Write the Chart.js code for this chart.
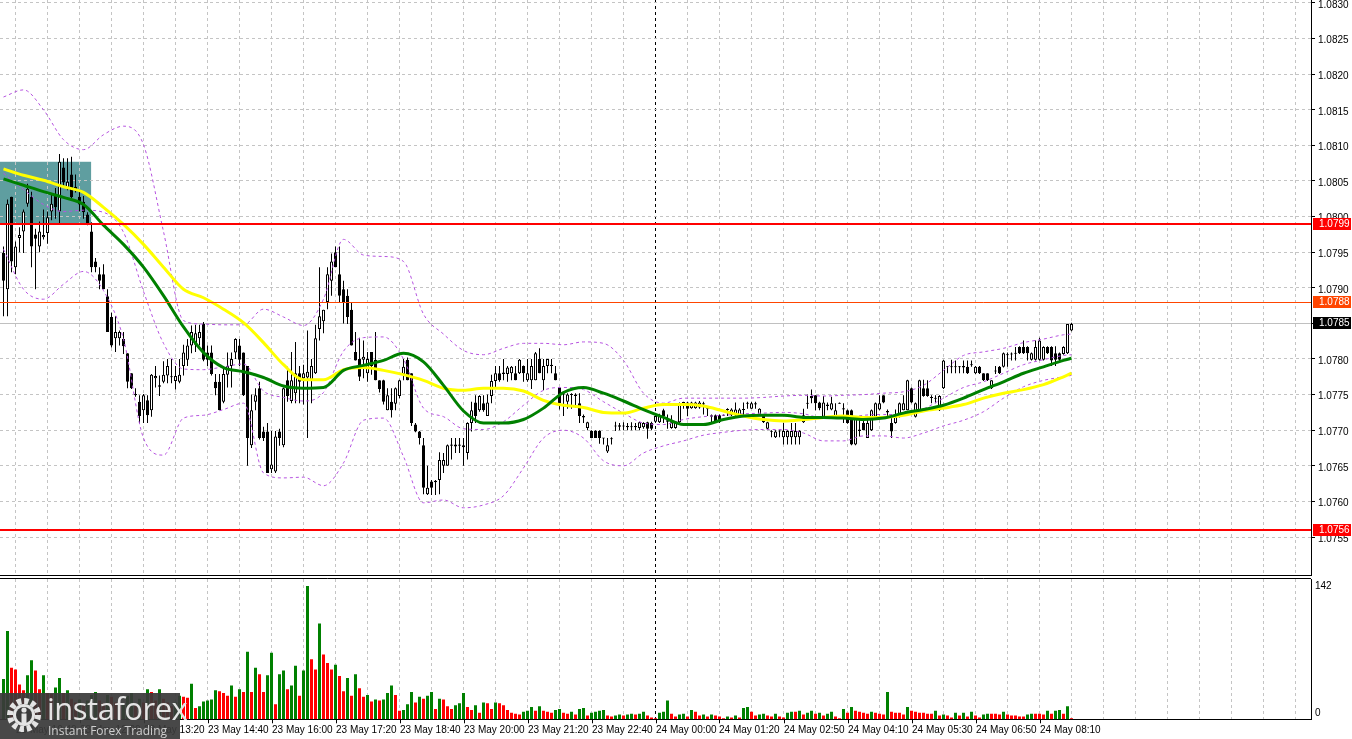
<!DOCTYPE html>
<html>
<head>
<meta charset="utf-8">
<script src="https://cdn.jsdelivr.net/npm/chart.js@4.4.0/dist/chart.umd.min.js"></script>
<style>
  body { margin: 0; background: #fff; width: 1352px; height: 739px; overflow: hidden; position: relative; }
  #price { position: absolute; left: 0; top: 0; }
  #vol { position: absolute; left: 0; top: 577px; }
  #logo { position: absolute; left: 0; top: 693px; width: 180px; height: 46px; background: rgba(58,58,58,0.93); color: #e4e4e4; font-family: 'Open Sans', 'Liberation Sans', sans-serif; }
  #logo svg { position: absolute; left: 6px; top: 4px; }
  #logo .brand { position: absolute; left: 47px; top: -6px; font-size: 31px; letter-spacing: -0.5px; }
  #logo .tag { position: absolute; left: 48px; top: 29px; font-size: 12px; color: #cfcfcf; }
</style>
</head>
<body>
<canvas id="price" width="1352" height="577"></canvas>
<canvas id="vol" width="1352" height="162"></canvas>
<div id="logo">
  <svg width="36" height="36" viewBox="0 0 36 36">
    <circle cx="18" cy="18" r="14" fill="none" stroke="#e4e4e4" stroke-width="6" stroke-dasharray="4.4 2.9"/>
    <circle cx="18" cy="18" r="11" fill="#e4e4e4"/>
    <circle cx="18" cy="18" r="8" fill="#3a3a3a"/>
    <circle cx="18" cy="13" r="2.6" fill="#e4e4e4"/>
    <rect x="15.5" y="16.5" width="5" height="10" fill="#e4e4e4"/>
  </svg>
  <div class="brand">instaforex</div>
  <div class="tag">Instant Forex Trading</div>
</div>
<script>
// M5 candles, 23 May ~10:30 .. 24 May 08:50
const openPx = [
  1.07949,1.07898,1.08028,1.07929,1.07970,1.07979,1.08018,1.08028,1.07975,1.07958,
  1.07971,1.07977,1.08007,1.08032,1.08007,1.08069,1.08039,1.08059,1.08042,1.08028,
  1.08021,1.08003,1.07979,1.07937,1.07919,1.07919,1.07888,1.07859,1.07829,1.07829,
  1.07828,1.07808,1.07780,1.07751,1.07740,1.07728,1.07742,1.07728,1.07773,1.07761,
  1.07768,1.07777,1.07775,1.07769,1.07768,1.07790,1.07799,1.07819,1.07820,1.07829,
  1.07849,1.07809,1.07809,1.07768,1.07768,1.07740,1.07778,1.07790,1.07809,1.07819,
  1.07809,1.07790,1.07679,1.07740,1.07759,1.07698,1.07698,1.07645,1.07642,1.07698,
  1.07679,1.07770,1.07741,1.07752,1.07780,1.07773,1.07774,1.07771,1.07780,1.07842,
  1.07853,1.07880,1.07910,1.07950,1.07919,1.07898,1.07889,1.07869,1.07810,1.07800,
  1.07799,1.07780,1.07810,1.07799,1.07770,1.07770,1.07728,1.07740,1.07737,1.07748,
  1.07779,1.07799,1.07780,1.07708,1.07698,1.07679,1.07610,1.07628,1.07629,1.07630,
  1.07650,1.07650,1.07678,1.07677,1.07680,1.07676,1.07668,1.07710,1.07739,1.07728,
  1.07738,1.07720,1.07748,1.07769,1.07780,1.07779,1.07779,1.07780,1.07780,1.07780,
  1.07790,1.07770,1.07770,1.07770,1.07800,1.07770,1.07790,1.07790,1.07780,1.07760,
  1.07750,1.07740,1.07750,1.07748,1.07738,1.07720,1.07703,1.07699,1.07699,1.07699,
  1.07689,1.07670,1.07688,1.07706,1.07705,1.07706,1.07704,1.07705,1.07704,1.07703,
  1.07704,1.07711,1.07710,1.07712,1.07711,1.07728,1.07714,1.07703,1.07703,1.07711,
  1.07739,1.07739,1.07731,1.07731,1.07732,1.07738,1.07730,1.07721,1.07721,1.07721,
  1.07721,1.07729,1.07721,1.07721,1.07721,1.07729,1.07738,1.07730,1.07738,1.07721,
  1.07721,1.07702,1.07698,1.07690,1.07699,1.07690,1.07690,1.07690,1.07690,1.07690,
  1.07711,1.07738,1.07748,1.07749,1.07739,1.07719,1.07736,1.07729,1.07719,1.07738,
  1.07731,1.07728,1.07728,1.07680,1.07701,1.07710,1.07689,1.07700,1.07719,1.07729,
  1.07749,1.07727,1.07710,1.07710,1.07719,1.07728,1.07728,1.07759,1.07719,1.07728,
  1.07759,1.07759,1.07746,1.07745,1.07728,1.07759,1.07789,1.07789,1.07789,1.07789,
  1.07790,1.07789,1.07792,1.07780,1.07789,1.07780,1.07780,1.07759,1.07783,1.07789,
  1.07789,1.07806,1.07807,1.07808,1.07817,1.07817,1.07817,1.07799,1.07799,1.07799,
  1.07799,1.07817,1.07817,1.07808,1.07808,1.07807,1.07808,1.07840
];
const highPx = [
  1.07958,1.08024,1.08028,1.07965,1.07985,1.08010,1.08046,1.08035,1.07983,1.07993,
  1.08010,1.08007,1.08032,1.08040,1.08088,1.08082,1.08082,1.08084,1.08059,1.08037,
  1.08029,1.08006,1.07992,1.07942,1.07929,1.07933,1.07898,1.07865,1.07860,1.07840,
  1.07838,1.07808,1.07780,1.07759,1.07749,1.07751,1.07749,1.07779,1.07790,1.07777,
  1.07797,1.07800,1.07800,1.07790,1.07800,1.07820,1.07828,1.07847,1.07848,1.07848,
  1.07852,1.07819,1.07819,1.07779,1.07779,1.07788,1.07809,1.07809,1.07829,1.07828,
  1.07809,1.07790,1.07750,1.07759,1.07768,1.07705,1.07710,1.07699,1.07699,1.07702,
  1.07760,1.07789,1.07810,1.07824,1.07790,1.07792,1.07840,1.07800,1.07848,1.07929,
  1.07869,1.07929,1.07948,1.07958,1.07958,1.07910,1.07898,1.07880,1.07838,1.07830,
  1.07826,1.07810,1.07810,1.07838,1.07770,1.07771,1.07759,1.07759,1.07760,1.07771,
  1.07800,1.07802,1.07780,1.07710,1.07699,1.07689,1.07650,1.07630,1.07630,1.07669,
  1.07668,1.07680,1.07689,1.07689,1.07689,1.07689,1.07711,1.07740,1.07749,1.07749,
  1.07749,1.07750,1.07778,1.07790,1.07790,1.07800,1.07790,1.07790,1.07790,1.07800,
  1.07791,1.07800,1.07800,1.07810,1.07815,1.07800,1.07800,1.07800,1.07790,1.07760,
  1.07752,1.07752,1.07752,1.07752,1.07752,1.07722,1.07712,1.07700,1.07700,1.07700,
  1.07689,1.07689,1.07690,1.07712,1.07710,1.07711,1.07710,1.07711,1.07710,1.07712,
  1.07711,1.07712,1.07712,1.07722,1.07723,1.07730,1.07722,1.07721,1.07712,1.07739,
  1.07740,1.07740,1.07740,1.07740,1.07741,1.07740,1.07731,1.07722,1.07722,1.07722,
  1.07722,1.07731,1.07731,1.07739,1.07731,1.07739,1.07740,1.07740,1.07740,1.07731,
  1.07722,1.07712,1.07700,1.07700,1.07700,1.07710,1.07700,1.07710,1.07710,1.07700,
  1.07730,1.07750,1.07757,1.07749,1.07740,1.07748,1.07739,1.07747,1.07738,1.07739,
  1.07738,1.07729,1.07729,1.07720,1.07719,1.07719,1.07719,1.07729,1.07739,1.07749,
  1.07749,1.07729,1.07719,1.07729,1.07739,1.07749,1.07771,1.07760,1.07739,1.07771,
  1.07771,1.07770,1.07749,1.07749,1.07749,1.07799,1.07790,1.07799,1.07798,1.07790,
  1.07798,1.07798,1.07798,1.07790,1.07790,1.07780,1.07780,1.07770,1.07790,1.07790,
  1.07809,1.07809,1.07809,1.07817,1.07818,1.07826,1.07818,1.07809,1.07826,1.07830,
  1.07818,1.07818,1.07818,1.07818,1.07809,1.07818,1.07849,1.07851
];
const lowPx = [
  1.07860,1.07860,1.07922,1.07919,1.07950,1.07949,1.08014,1.07929,1.07898,1.07950,
  1.07968,1.07962,1.07995,1.07997,1.07989,1.08040,1.08037,1.08023,1.08034,1.08007,
  1.07997,1.07988,1.07922,1.07922,1.07898,1.07898,1.07838,1.07816,1.07810,1.07819,
  1.07807,1.07759,1.07758,1.07747,1.07710,1.07710,1.07710,1.07719,1.07760,1.07748,
  1.07766,1.07766,1.07766,1.07757,1.07766,1.07777,1.07790,1.07808,1.07810,1.07819,
  1.07797,1.07790,1.07777,1.07749,1.07728,1.07738,1.07760,1.07760,1.07800,1.07790,
  1.07748,1.07650,1.07675,1.07728,1.07687,1.07685,1.07640,1.07640,1.07640,1.07678,
  1.07676,1.07740,1.07738,1.07738,1.07738,1.07736,1.07689,1.07738,1.07779,1.07826,
  1.07836,1.07870,1.07889,1.07929,1.07879,1.07850,1.07849,1.07819,1.07798,1.07769,
  1.07773,1.07768,1.07778,1.07770,1.07753,1.07736,1.07728,1.07718,1.07728,1.07745,
  1.07770,1.07770,1.07706,1.07697,1.07680,1.07610,1.07609,1.07609,1.07609,1.07610,
  1.07640,1.07650,1.07659,1.07668,1.07668,1.07650,1.07659,1.07698,1.07710,1.07726,
  1.07726,1.07720,1.07738,1.07758,1.07768,1.07770,1.07768,1.07770,1.07770,1.07779,
  1.07768,1.07768,1.07758,1.07770,1.07780,1.07756,1.07780,1.07780,1.07770,1.07729,
  1.07720,1.07730,1.07730,1.07732,1.07710,1.07710,1.07700,1.07689,1.07689,1.07681,
  1.07680,1.07668,1.07680,1.07699,1.07700,1.07700,1.07700,1.07700,1.07700,1.07700,
  1.07702,1.07688,1.07700,1.07710,1.07710,1.07710,1.07702,1.07702,1.07702,1.07710,
  1.07730,1.07720,1.07730,1.07730,1.07730,1.07722,1.07720,1.07710,1.07710,1.07710,
  1.07720,1.07720,1.07720,1.07720,1.07720,1.07720,1.07730,1.07730,1.07730,1.07720,
  1.07710,1.07700,1.07690,1.07689,1.07690,1.07680,1.07680,1.07680,1.07680,1.07680,
  1.07710,1.07730,1.07738,1.07728,1.07728,1.07718,1.07728,1.07728,1.07718,1.07737,
  1.07710,1.07709,1.07679,1.07679,1.07691,1.07700,1.07689,1.07699,1.07718,1.07728,
  1.07738,1.07719,1.07689,1.07709,1.07718,1.07728,1.07728,1.07738,1.07718,1.07728,
  1.07747,1.07747,1.07738,1.07738,1.07727,1.07758,1.07780,1.07780,1.07780,1.07780,
  1.07780,1.07779,1.07789,1.07779,1.07779,1.07769,1.07769,1.07758,1.07779,1.07779,
  1.07788,1.07789,1.07798,1.07798,1.07807,1.07807,1.07798,1.07798,1.07798,1.07798,
  1.07798,1.07807,1.07790,1.07790,1.07795,1.07806,1.07807,1.07839
];
const closePx = [
  1.07910,1.08018,1.07937,1.07958,1.07974,1.08007,1.08039,1.07958,1.07969,1.07979,
  1.07974,1.07999,1.08018,1.08013,1.08077,1.08048,1.08049,1.08027,1.08038,1.08017,
  1.08006,1.07990,1.07929,1.07929,1.07910,1.07898,1.07838,1.07819,1.07838,1.07838,
  1.07818,1.07768,1.07759,1.07749,1.07720,1.07749,1.07721,1.07778,1.07776,1.07763,
  1.07778,1.07790,1.07776,1.07776,1.07778,1.07809,1.07819,1.07838,1.07836,1.07838,
  1.07799,1.07799,1.07779,1.07759,1.07728,1.07779,1.07790,1.07800,1.07828,1.07799,
  1.07749,1.07689,1.07728,1.07749,1.07689,1.07689,1.07640,1.07652,1.07691,1.07689,
  1.07759,1.07748,1.07770,1.07780,1.07768,1.07780,1.07782,1.07790,1.07829,1.07860,
  1.07869,1.07919,1.07937,1.07929,1.07889,1.07880,1.07859,1.07819,1.07798,1.07775,
  1.07803,1.07800,1.07790,1.07770,1.07758,1.07740,1.07749,1.07728,1.07759,1.07770,
  1.07789,1.07770,1.07710,1.07698,1.07689,1.07619,1.07619,1.07619,1.07627,1.07658,
  1.07658,1.07679,1.07680,1.07680,1.07678,1.07679,1.07710,1.07728,1.07720,1.07748,
  1.07728,1.07739,1.07769,1.07780,1.07770,1.07781,1.07788,1.07789,1.07770,1.07799,
  1.07780,1.07780,1.07790,1.07808,1.07780,1.07790,1.07800,1.07792,1.07770,1.07738,
  1.07752,1.07750,1.07749,1.07750,1.07720,1.07718,1.07711,1.07689,1.07689,1.07689,
  1.07688,1.07679,1.07689,1.07705,1.07707,1.07705,1.07706,1.07706,1.07706,1.07711,
  1.07710,1.07702,1.07702,1.07720,1.07721,1.07720,1.07712,1.07711,1.07711,1.07738,
  1.07738,1.07730,1.07739,1.07739,1.07739,1.07736,1.07729,1.07719,1.07711,1.07711,
  1.07720,1.07730,1.07729,1.07729,1.07729,1.07728,1.07739,1.07738,1.07736,1.07730,
  1.07711,1.07711,1.07699,1.07698,1.07698,1.07699,1.07699,1.07699,1.07699,1.07699,
  1.07721,1.07739,1.07745,1.07738,1.07731,1.07739,1.07734,1.07738,1.07728,1.07738,
  1.07729,1.07710,1.07680,1.07719,1.07699,1.07700,1.07710,1.07728,1.07738,1.07738,
  1.07739,1.07725,1.07698,1.07719,1.07738,1.07738,1.07770,1.07739,1.07738,1.07770,
  1.07748,1.07748,1.07745,1.07746,1.07748,1.07798,1.07790,1.07788,1.07790,1.07790,
  1.07788,1.07780,1.07791,1.07789,1.07780,1.07770,1.07770,1.07770,1.07782,1.07780,
  1.07808,1.07805,1.07808,1.07807,1.07808,1.07808,1.07808,1.07808,1.07817,1.07826,
  1.07817,1.07808,1.07798,1.07799,1.07799,1.07817,1.07849,1.07849
];
const tickVolume = [
  43,94,55,53,37,31,47,63,52,32, 47,28,27,34,44,28,31,22,18,21,
  16,20,26,29,20,17,26,24,18,14, 16,25,28,15,22,18,32,29,20,32,
  22,18,14,18,25,24,23,38,12,14, 19,20,21,31,30,28,25,36,24,32,
  29,72,29,55,48,29,47,71,16,48, 52,32,36,57,25,52,142,64,53,102,
  69,60,53,58,46,30,44,25,48,33, 24,26,19,21,20,21,28,36,26,9,
  10,16,29,18,24,22,25,29,11,22, 21,14,11,15,17,28,13,10,15,7,
  18,17,11,18,17,15,10,7,6,5, 8,9,13,9,14,9,8,7,10,11,
  7,6,8,5,11,12,4,7,8,9, 10,4,3,4,5,4,5,6,5,6,
  8,4,2,1,7,8,20,6,3,5, 6,3,10,8,4,5,3,5,4,3,
  1,3,2,4,2,12,13,8,4,5, 6,4,3,6,3,2,7,8,8,9,
  5,7,9,6,7,4,6,8,3,1, 11,7,13,9,8,7,6,8,7,6,
  5,29,8,7,7,5,13,9,8,7, 7,6,6,9,4,5,4,2,7,4,
  7,3,8,4,2,5,6,6,6,5, 8,5,4,4,3,3,5,6,6,6,
  5,9,6,9,10,6,14,1
];

// moving averages and Bollinger lines, read every 5th bar
const maIdx = [0,5,10,15,20,25,30,35,40,45,50,55,60,65,70,75,80,85,90,95,100,105,110,115,120,125,130,135,140,145,150,155,160,165,170,175,180,185,190,195,200,205,210,215,220,225,230,235,240,245,250,255,260,265,267];
const maFast = [
  1.08053,1.08044,1.08035,1.08027,1.08017,1.07988,1.07961,1.07929,1.07889,1.07845,
  1.07809,1.07788,1.07782,1.07774,1.07762,1.07759,1.07760,1.07784,1.07791,1.07798,
  1.07808,1.07796,1.07763,1.07727,1.07710,1.07710,1.07715,1.07731,1.07753,1.07760,
  1.07752,1.07741,1.07729,1.07718,1.07708,1.07708,1.07715,1.07720,1.07721,1.07721,
  1.07718,1.07718,1.07717,1.07715,1.07717,1.07724,1.07729,1.07735,1.07745,1.07757,
  1.07768,1.07780,1.07789,1.07798,1.07801
];
const maSlow = [
  1.08067,1.08058,1.08051,1.08042,1.08034,1.08013,1.07989,1.07961,1.07929,1.07898,
  1.07886,1.07870,1.07851,1.07823,1.07792,1.07771,1.07771,1.07785,1.07788,1.07784,
  1.07778,1.07770,1.07759,1.07756,1.07759,1.07759,1.07755,1.07742,1.07735,1.07732,
  1.07725,1.07724,1.07731,1.07736,1.07736,1.07734,1.07727,1.07720,1.07715,1.07713,
  1.07715,1.07718,1.07720,1.07718,1.07718,1.07721,1.07727,1.07731,1.07736,1.07745,
  1.07752,1.07757,1.07764,1.07775,1.07780
];
const bandUpper = [
  1.08168,1.08178,1.08150,1.08108,1.08094,1.08115,1.08127,1.08101,1.07979,1.07854,
  1.07849,1.07848,1.07848,1.07870,1.07859,1.07847,1.07884,1.07968,1.07946,1.07944,
  1.07937,1.07863,1.07835,1.07812,1.07806,1.07815,1.07822,1.07822,1.07820,1.07824,
  1.07822,1.07798,1.07752,1.07738,1.07745,1.07745,1.07745,1.07745,1.07746,1.07748,
  1.07749,1.07748,1.07749,1.07750,1.07752,1.07754,1.07763,1.07784,1.07805,1.07810,
  1.07815,1.07823,1.07828,1.07834,1.07835
];
const bandMiddle = [
  1.08061,1.08038,1.08017,1.08007,1.08009,1.08006,1.07978,1.07895,1.07822,1.07786,
  1.07785,1.07789,1.07793,1.07755,1.07746,1.07741,1.07753,1.07811,1.07830,1.07831,
  1.07800,1.07731,1.07719,1.07702,1.07701,1.07712,1.07735,1.07756,1.07760,1.07757,
  1.07740,1.07724,1.07710,1.07708,1.07715,1.07719,1.07721,1.07723,1.07724,1.07725,
  1.07723,1.07717,1.07717,1.07721,1.07722,1.07722,1.07730,1.07745,1.07760,1.07768,
  1.07780,1.07792,1.07799,1.07805,1.07806
];
const bandLower = [
  1.07954,1.07898,1.07884,1.07905,1.07923,1.07896,1.07828,1.07689,1.07665,1.07717,
  1.07721,1.07729,1.07738,1.07640,1.07633,1.07634,1.07622,1.07654,1.07714,1.07717,
  1.07663,1.07598,1.07602,1.07591,1.07595,1.07608,1.07647,1.07689,1.07700,1.07689,
  1.07657,1.07650,1.07668,1.07678,1.07685,1.07693,1.07697,1.07700,1.07701,1.07701,
  1.07696,1.07685,1.07685,1.07692,1.07692,1.07689,1.07696,1.07706,1.07714,1.07726,
  1.07745,1.07761,1.07770,1.07775,1.07777
];

const priceTicks = ['1.0830','1.0825','1.0820','1.0815','1.0810','1.0805','1.0800','1.0795','1.0790','1.0785','1.0780','1.0775','1.0770','1.0765','1.0760','1.0755'];
const volTicks = ['142', '0'];
const timeLabels = ['23 May 10:40','23 May 12:00','23 May 13:20','23 May 14:40','23 May 16:00','23 May 17:20','23 May 18:40','23 May 20:00','23 May 21:20','23 May 22:40','24 May 00:00','24 May 01:20','24 May 02:50','24 May 04:10','24 May 05:30','24 May 06:50','24 May 08:10'];

// horizontal levels drawn across the price panel
const levels = [
  { price: 1.0799, color: '#ff0000', width: 2 },
  { price: 1.0788, color: '#ff4500', width: 1 },
  { price: 1.0756, color: '#ff0000', width: 2 }
];
const bidPrice = 1.0785;
const zone = { from: -0.9, to: 21.9, top: 1.08077, bottom: 1.0799 };
const daySplit = 163;

Chart.defaults.font.family = "'Liberation Sans', Arial, sans-serif";
Chart.defaults.font.size = 10;
Chart.defaults.color = '#000';
Chart.defaults.animation = false;

const GRID = '#c4c4c4';
const FONT = "10px 'Liberation Sans', Arial, sans-serif";
const gridIdx = [];
for (let k = 0; k <= 40; k++) gridIdx.push(3 + 8 * k);

function xAxis(extra) {
  return Object.assign({
    type: 'linear',
    min: -0.875,
    max: 326.875,
    offset: false,
    afterBuildTicks: s => { s.ticks = gridIdx.map(v => ({ value: v })); },
    grid: {
      offset: false,
      color: c => (c.tick && c.tick.value === daySplit) ? '#000' : GRID,
      drawTicks: false
    },
    border: { dash: [3, 3], color: '#000' },
    ticks: { display: false }
  }, extra);
}

const bodies = openPx.map((o, i) => {
  const c = closePx[i];
  if (Math.abs(o - c) < 0.000012) { return { x: i, y: [o - 0.000007, o + 0.000007] }; }
  return { x: i, y: [o, c] };
});
const wicks = lowPx.map((l, i) => ({ x: i, y: [l, highPx[i]] }));
const line = arr => maIdx.map((i, k) => ({ x: i, y: arr[k] }));
const band = (arr) => ({ type: 'line', data: line(arr), borderColor: '#b653e0', borderWidth: 1, borderDash: [3, 3], pointRadius: 0, cubicInterpolationMode: 'monotone', order: 2 });

const priceDecor = {
  id: 'priceDecor',
  beforeDraw(chart) {
    const { ctx, scales: { x, y } } = chart;
    ctx.save();
    ctx.fillStyle = '#5f9ea0';
    const x1 = Math.max(0, x.getPixelForValue(zone.from));
    const x2 = x.getPixelForValue(zone.to);
    const y1 = y.getPixelForValue(zone.top);
    const y2 = y.getPixelForValue(zone.bottom);
    ctx.fillRect(x1, y1, x2 - x1, y2 - y1);
    ctx.restore();
  },
  beforeDatasetsDraw(chart) {
    const { ctx, chartArea: a, scales: { y } } = chart;
    ctx.save();
    ctx.strokeStyle = '#c0c0c0';
    ctx.lineWidth = 1;
    const by = Math.round(y.getPixelForValue(bidPrice)) + 0.5;
    ctx.beginPath(); ctx.moveTo(a.left, by); ctx.lineTo(a.right, by); ctx.stroke();
    ctx.restore();
  },
  afterDatasetsDraw(chart) {
    const { ctx, chartArea: a, scales: { y } } = chart;
    ctx.save();
    levels.forEach(l => {
      const py = y.getPixelForValue(l.price);
      ctx.strokeStyle = l.color;
      ctx.lineWidth = l.width;
      const yy = l.width % 2 ? Math.round(py) + 0.5 : Math.round(py);
      ctx.beginPath(); ctx.moveTo(a.left, yy); ctx.lineTo(a.right, yy); ctx.stroke();
    });
    ctx.restore();
  },
  afterDraw(chart) {
    const { ctx, chartArea: a, scales: { y } } = chart;
    const boxes = levels.map(l => ({ price: l.price, color: l.color })).concat([{ price: bidPrice, color: '#000' }]);
    ctx.save();
    ctx.font = FONT;
    ctx.textBaseline = 'middle';
    boxes.forEach(b => {
      const py = Math.round(y.getPixelForValue(b.price));
      ctx.fillStyle = b.color;
      ctx.fillRect(a.right + 2, py - 6, 38, 12);
      ctx.fillStyle = '#fff';
      ctx.fillText(b.price.toFixed(4), a.right + 8, py + 0.5);
    });
    ctx.restore();
  }
};

new Chart(document.getElementById('price'), {
  type: 'bar',
  data: {
    datasets: [
      { type: 'line', data: line(maFast), borderColor: '#008000', borderWidth: 3, pointRadius: 0, cubicInterpolationMode: 'monotone', order: 0 },
      { type: 'line', data: line(maSlow), borderColor: '#ffff00', borderWidth: 3, pointRadius: 0, cubicInterpolationMode: 'monotone', order: 1 },
      band(bandUpper),
      band(bandMiddle),
      band(bandLower),
      {
        data: bodies,
        backgroundColor: bodies.map((b, i) => closePx[i] > openPx[i] ? '#ffffff' : '#000000'),
        borderColor: '#000', borderWidth: 1, borderSkipped: false, inflateAmount: 0,
        barThickness: 3, grouped: false, order: 3
      },
      { data: wicks, backgroundColor: '#000', borderWidth: 0, inflateAmount: 0, barThickness: 1, grouped: false, order: 4 }
    ]
  },
  options: {
    responsive: false,
    events: [],
    layout: { padding: 0, autoPadding: false },
    plugins: { legend: { display: false }, tooltip: { enabled: false } },
    scales: {
      x: xAxis({ afterFit: s => { s.height = 2; } }),
      y: {
        position: 'right',
        min: 1.0749663,
        max: 1.0830421,
        afterBuildTicks: s => { s.ticks = priceTicks.map(t => ({ value: parseFloat(t) })); },
        afterFit: s => { s.width = 41; s.paddingTop = 0; s.paddingBottom = 0; },
        grid: { color: GRID, tickColor: '#000', tickLength: 4, tickBorderDash: [] },
        border: { dash: [3, 3], color: '#000' },
        ticks: { padding: 3, labelOffset: 2, callback: (v, i) => priceTicks[i] }
      }
    }
  },
  plugins: [priceDecor]
});

const volDecor = {
  id: 'volDecor',
  afterDraw(chart) {
    const { ctx, chartArea: a, scales: { x, y } } = chart;
    ctx.save();
    ctx.strokeStyle = '#000';
    ctx.lineWidth = 1;
    ctx.beginPath(); ctx.moveTo(0, 1.5); ctx.lineTo(a.right, 1.5); ctx.stroke();
    ctx.font = FONT;
    ctx.fillStyle = '#000';
    ctx.textBaseline = 'middle';
    volTicks.forEach(t => {
      const py = Math.min(y.getPixelForValue(parseFloat(t)), a.bottom - 6);
      ctx.fillText(t, a.right + 4, py);
    });
    // time axis: a label on every second grid line
    ctx.textAlign = 'left';
    timeLabels.forEach((t, m) => {
      const px = Math.round(x.getPixelForValue(3 + 16 * m));
      ctx.beginPath(); ctx.moveTo(px + 0.5, a.bottom); ctx.lineTo(px + 0.5, a.bottom + 4); ctx.stroke();
      ctx.fillText(t, px, a.bottom + 11);
    });
    ctx.restore();
  }
};

new Chart(document.getElementById('vol'), {
  type: 'bar',
  data: {
    datasets: [{
      data: tickVolume.map((v, i) => ({ x: i, y: v })),
      backgroundColor: tickVolume.map((v, i) => (i === 0 || v > tickVolume[i - 1]) ? '#008000' : '#ff0000'),
      borderWidth: 0, inflateAmount: 0, barThickness: 3
    }]
  },
  options: {
    responsive: false,
    events: [],
    layout: { padding: { top: 2 }, autoPadding: false },
    plugins: { legend: { display: false }, tooltip: { enabled: false } },
    scales: {
      x: xAxis({ afterFit: s => { s.height = 19.7; } }),
      y: {
        position: 'right',
        min: 0,
        max: 149.46,
        afterFit: s => { s.width = 41; s.paddingTop = 0; s.paddingBottom = 0; },
        grid: { display: false },
        border: { color: '#000' },
        ticks: { display: false }
      }
    }
  },
  plugins: [volDecor]
});
</script>
</body>
</html>
